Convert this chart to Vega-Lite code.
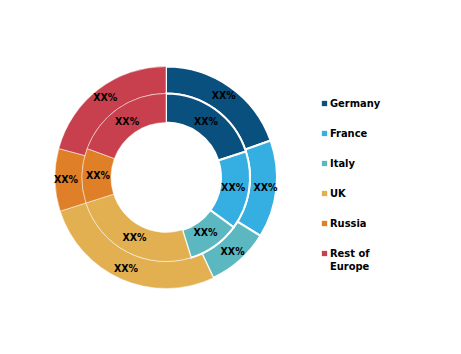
{
  "$schema": "https://vega.github.io/schema/vega-lite/v6.json",
  "width": 332,
  "height": 355,
  "padding": 0,
  "autosize": {"type": "pad"},
  "background": "white",
  "config": {"view": {"stroke": null}},
  "data": {
    "values": [
      {"ring": "outer", "country": "Germany", "idx": 1, "share": 19.6, "label": "XX%"},
      {"ring": "outer", "country": "France", "idx": 2, "share": 14.2, "label": "XX%"},
      {"ring": "outer", "country": "Italy", "idx": 3, "share": 9.2, "label": "XX%"},
      {"ring": "outer", "country": "UK", "idx": 4, "share": 27.1, "label": "XX%"},
      {"ring": "outer", "country": "Russia", "idx": 5, "share": 9.1, "label": "XX%"},
      {"ring": "outer", "country": "Rest of Europe", "idx": 6, "share": 20.8, "label": "XX%"},
      {"ring": "inner", "country": "Germany", "idx": 1, "share": 20.0, "label": "XX%"},
      {"ring": "inner", "country": "France", "idx": 2, "share": 15.1, "label": "XX%"},
      {"ring": "inner", "country": "Italy", "idx": 3, "share": 10.1, "label": "XX%"},
      {"ring": "inner", "country": "UK", "idx": 4, "share": 24.9, "label": "XX%"},
      {"ring": "inner", "country": "Russia", "idx": 5, "share": 10.5, "label": "XX%"},
      {"ring": "inner", "country": "Rest of Europe", "idx": 6, "share": 19.4, "label": "XX%"}
    ]
  },
  "layer": [
    {
      "transform": [{"filter": "datum.ring == 'outer'"}],
      "mark": {"type": "arc", "outerRadius": 111, "innerRadius": 84, "stroke": "white"},
      "encoding": {
        "theta": {"field": "share", "type": "quantitative", "stack": true},
        "order": {"field": "idx", "type": "quantitative"},
        "strokeWidth": {"condition": {"test": "indexof(['Germany','France','Italy'], datum.country) >= 0", "value": 2}, "value": 0.5},
        "color": {
          "field": "country", "type": "nominal",
          "scale": {"domain": ["Germany", "France", "Italy", "UK", "Russia", "Rest of Europe"], "range": ["#0A507E", "#35AEE1", "#5BB8C1", "#E2B050", "#DF7F28", "#C8404E"]},
          "legend": {
            "orient": "none", "legendX": 319, "legendY": 98, "title": null,
            "symbolType": "square", "symbolSize": 28, "symbolStrokeWidth": 0,
            "labelFont": "DejaVu Sans Condensed", "labelFontSize": 11, "labelFontWeight": "bold", "labelColor": "black",
            "labelOffset": 0, "rowPadding": 18, "labelLineHeight": 15,
            "labelExpr": "datum.label == 'Rest of Europe' ? ['Rest of', 'Europe'] : datum.label"
          }
        }
      }
    },
    {
      "transform": [{"filter": "datum.ring == 'inner'"}],
      "mark": {"type": "arc", "outerRadius": 84, "innerRadius": 55, "stroke": "white"},
      "encoding": {
        "theta": {"field": "share", "type": "quantitative", "stack": true},
        "order": {"field": "idx", "type": "quantitative"},
        "strokeWidth": {"condition": {"test": "indexof(['Germany','France','Italy'], datum.country) >= 0", "value": 2}, "value": 0.5},
        "color": {
          "field": "country", "type": "nominal",
          "scale": {"domain": ["Germany", "France", "Italy", "UK", "Russia", "Rest of Europe"], "range": ["#0A507E", "#35AEE1", "#5BB8C1", "#E2B050", "#DF7F28", "#C8404E"]}
        }
      }
    },
    {
      "transform": [{"filter": "datum.ring == 'outer'"}],
      "mark": {"type": "text", "radius": 100, "font": "DejaVu Sans Condensed", "fontSize": 10.5, "fontWeight": "bold", "color": "black"},
      "encoding": {
        "theta": {"field": "share", "type": "quantitative", "stack": true},
        "order": {"field": "idx", "type": "quantitative"},
        "detail": {"field": "country", "type": "nominal"},
        "text": {"field": "label", "type": "nominal"}
      }
    },
    {
      "transform": [{"filter": "datum.ring == 'inner'"}],
      "mark": {"type": "text", "radius": 68, "font": "DejaVu Sans Condensed", "fontSize": 10.5, "fontWeight": "bold", "color": "black"},
      "encoding": {
        "theta": {"field": "share", "type": "quantitative", "stack": true},
        "order": {"field": "idx", "type": "quantitative"},
        "detail": {"field": "country", "type": "nominal"},
        "text": {"field": "label", "type": "nominal"}
      }
    }
  ]
}
